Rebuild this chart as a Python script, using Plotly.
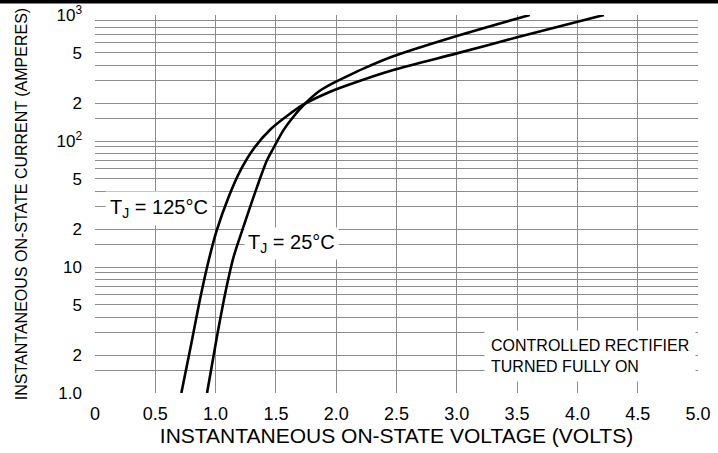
import plotly.graph_objects as go

# Data
v_125 = [0.716, 0.80, 0.87, 0.94, 1.01, 1.108, 1.204, 1.32, 1.46, 1.60, 1.73, 1.95, 2.115, 2.473, 3.0, 3.5, 4.22]
i_125 = [1.0, 2.5, 5.5, 11.0, 19.6, 36, 58, 88, 125, 160, 195, 246, 282, 366, 496, 665, 1000]

v_25 = [0.929, 1.011, 1.08, 1.149, 1.232, 1.343, 1.425, 1.48, 1.563, 1.65, 1.73, 1.85, 1.95, 2.115, 2.225, 2.473, 3.0, 3.605]
i_25 = [1.0, 2.8, 6.2, 12.0, 21.0, 43, 70, 88, 122, 158, 193, 245, 280, 335, 375, 470, 681, 1000]

x_ticks = [0, 0.5, 1.0, 1.5, 2.0, 2.5, 3.0, 3.5, 4.0, 4.5, 5.0]
x_tick_labels = ["0", "0.5", "1.0", "1.5", "2.0", "2.5", "3.0", "3.5", "4.0", "4.5", "5.0"]
x_grid = [0.5, 1.0, 1.5, 2.0, 2.5, 3.0, 3.5, 4.0, 4.5, 5.0]

y_ticks = [1, 2, 5, 10, 20, 50, 100, 200, 500, 1000]
y_tick_labels = ["1.0", "2", "5", "10", "2", "5", "10<sup>2</sup>", "2", "5", "10<sup>3</sup>"]
y_minor = [1.5, 3, 4, 6, 7, 8, 9, 15, 30, 40, 60, 70, 80, 90, 150, 300, 400, 600, 700, 800, 900]

FONT = "Liberation Sans, Arial, sans-serif"
GRID = "#8c8c8c"

fig = go.Figure()
fig.add_trace(go.Scatter(x=v_125, y=i_125, mode="lines", name="TJ = 125°C",
                         line=dict(color="black", width=2.6, shape="spline", smoothing=0.8)))
fig.add_trace(go.Scatter(x=v_25, y=i_25, mode="lines", name="TJ = 25°C",
                         line=dict(color="black", width=2.6, shape="spline", smoothing=0.8)))

fig.update_layout(
    width=718, height=453,
    margin=dict(l=95, r=20, t=15, b=60),
    paper_bgcolor="white", plot_bgcolor="white",
    showlegend=False,
    font=dict(family=FONT, color="black"),
    xaxis=dict(
        range=[0, 5], tickvals=x_ticks, ticktext=x_tick_labels, automargin=False,
        showgrid=False, zeroline=False, showline=False, ticks="",
        tickfont=dict(size=18), ticklabelstandoff=8,
        minor=dict(tickvals=x_grid, showgrid=True, gridcolor=GRID, gridwidth=1, ticks=""),
        title=dict(text="INSTANTANEOUS ON-STATE VOLTAGE (VOLTS)", font=dict(size=21), standoff=2),
    ),
    yaxis=dict(
        type="log", range=[0, 3], tickvals=y_ticks, ticktext=y_tick_labels, automargin=False,
        showgrid=True, gridcolor=GRID, gridwidth=1, zeroline=False, showline=False, ticks="",
        tickfont=dict(size=17), ticklabelstandoff=12,
        minor=dict(tickvals=y_minor, showgrid=True, gridcolor=GRID, gridwidth=1, ticks=""),
        title=dict(text="INSTANTANEOUS ON-STATE CURRENT (AMPERES)", font=dict(size=16), standoff=24),
    ),
    shapes=[
        dict(type="rect", xref="paper", yref="paper", x0=-0.16, x1=1.04,
             y0=1 + 11.5 / 377.7, y1=1.1, fillcolor="black",
             line=dict(width=0), layer="above"),
    ],
    annotations=[
        dict(xref="paper", yref="paper", x=0.106, y=0.489, xanchor="center", yanchor="middle",
             showarrow=False, text="T<sub>J</sub> = 125°C", font=dict(size=20),
             bgcolor="white", borderpad=4),
        dict(xref="paper", yref="paper", x=0.3256, y=0.3963, xanchor="center", yanchor="middle",
             showarrow=False, text="T<sub>J</sub> = 25°C", font=dict(size=20),
             bgcolor="white", borderpad=3),
        dict(xref="paper", yref="paper", x=0.821, y=0.0972, xanchor="center", yanchor="middle",
             showarrow=False, align="left",
             text="CONTROLLED RECTIFIER<br>TURNED FULLY ON",
             font=dict(size=16), bgcolor="white", borderpad=6),
    ],
)

fig.write_html("out.html", config={"displayModeBar": False},
               post_script="document.body.style.margin='0px';")
